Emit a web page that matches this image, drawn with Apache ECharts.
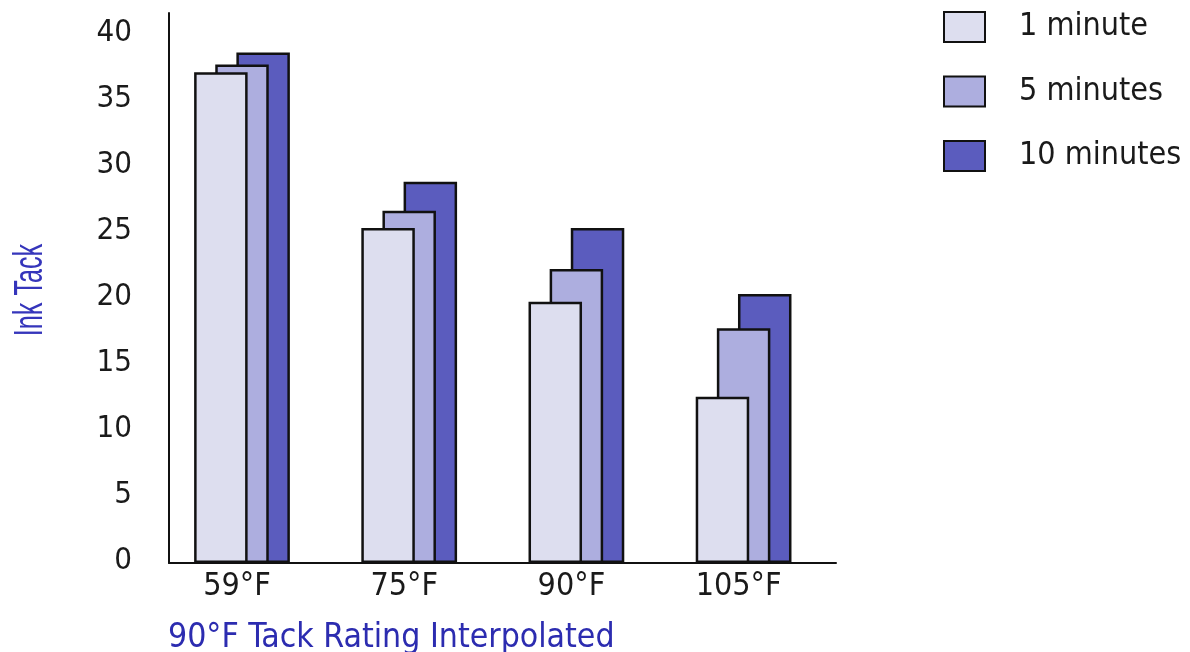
<!DOCTYPE html>
<html>
<head>
<meta charset="utf-8">
<script src="https://cdn.jsdelivr.net/npm/echarts@6/dist/echarts.min.js"></script>
<style>
  html, body { margin: 0; padding: 0; background: #ffffff; }
  #chart { width: 1190px; height: 652px; }
</style>
</head>
<body>
<div id="chart"></div>
<script>
// Ink tack measured at four press temperatures, after three dwell times
const temperatures = ['59°F', '75°F', '90°F', '105°F'];
const seriesNames = ['1 minute', '5 minutes', '10 minutes'];
const tackOneMinute = [37.2, 25.4, 19.8, 12.6];
const tackFiveMinutes = [37.8, 26.7, 22.3, 17.8];
const tackTenMinutes = [38.7, 28.9, 25.4, 20.4];
const yTickValues = [0, 5, 10, 15, 20, 25, 30, 35, 40];

const FONT = '"DejaVu Sans Condensed", "DejaVu Sans", sans-serif';
const colors = ['#dddeef', '#adaedf', '#5b5cbe'];
const yMax = 41.7;

const chart = echarts.init(document.getElementById('chart'), null, { renderer: 'canvas' });

function barSeries(name, values, idx) {
  return {
    name: name,
    type: 'bar',
    xAxisIndex: 1,
    yAxisIndex: 1,
    data: values,
    barWidth: 53.5,
    barGap: '-60.5%',
    z: 5 - idx,
    itemStyle: { color: colors[idx], borderColor: '#111111', borderWidth: 2.5 },
    emphasis: { disabled: true }
  };
}

chart.setOption({
  animation: false,
  backgroundColor: '#ffffff',
  grid: [
    { left: 169, top: 13, width: 667, height: 550 },
    { left: 158.4, top: 13, width: 668.8, height: 550 }
  ],
  xAxis: [
    {
      gridIndex: 0, type: 'category', data: temperatures,
      axisLine: { lineStyle: { color: '#111111', width: 2 } },
      axisTick: { show: false }, axisLabel: { show: false }
    },
    {
      gridIndex: 1, type: 'category', data: temperatures,
      axisLine: { show: false }, axisTick: { show: false },
      axisLabel: {
        margin: 8, color: '#1a1a1a', fontSize: 32, fontFamily: FONT,
        padding: [0, 10, 0, 0]
      }
    }
  ],
  yAxis: [
    {
      gridIndex: 0, type: 'value', min: 0, max: yMax, interval: 5,
      axisLine: { show: true, lineStyle: { color: '#111111', width: 2 } },
      axisTick: { show: false }, splitLine: { show: false },
      axisLabel: {
        showMaxLabel: false, margin: 37, color: '#1a1a1a', fontSize: 31, fontFamily: FONT,
        verticalAlign: 'bottom', lineHeight: 5,
        formatter: v => (yTickValues.indexOf(v) >= 0 ? String(v) : '')
      }
    },
    {
      gridIndex: 1, type: 'value', min: 0, max: yMax, show: false,
      splitLine: { show: false }
    }
  ],
  legend: {
    orient: 'vertical', left: 943, top: 11, padding: 0,
    itemWidth: 41, itemHeight: 30, itemGap: 32.5,
    icon: 'rect',
    data: seriesNames,
    selectedMode: false,
    itemStyle: { borderColor: '#111111', borderWidth: 2 },
    textStyle: { color: '#1a1a1a', fontSize: 32, fontFamily: FONT, padding: [0, 0, 0, 29] }
  },
  graphic: [
    {
      type: 'text', left: 168, top: 621,
      style: { text: '90°F Tack Rating Interpolated', fill: '#2c2cb0', font: '33.5px ' + FONT }
    },
    {
      type: 'text', x: 30.5, y: 290, rotation: Math.PI / 2, scaleX: 0.63,
      style: {
        text: 'Ink Tack', fill: '#3535bb', font: '40px "Liberation Sans", sans-serif',
        align: 'center', verticalAlign: 'middle'
      }
    }
  ],
  series: [
    barSeries(seriesNames[0], tackOneMinute, 0),
    barSeries(seriesNames[1], tackFiveMinutes, 1),
    barSeries(seriesNames[2], tackTenMinutes, 2)
  ]
});
</script>
</body>
</html>
